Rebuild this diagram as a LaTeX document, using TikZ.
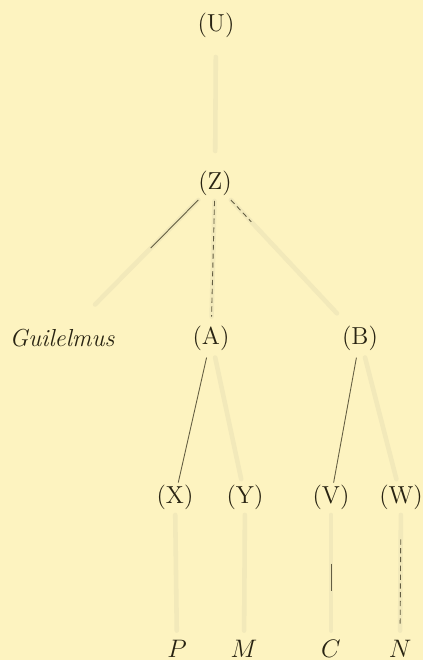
\documentclass[tikz,border=0pt]{standalone}
\usepackage{tikz}
\usetikzlibrary{calc}
\definecolor{paper}{RGB}{253,243,192}
\definecolor{inkdark}{RGB}{40,35,18}
\definecolor{tracecol}{RGB}{242,233,186}
\definecolor{thinink}{RGB}{100,94,66}
\tikzset{
  ms/.style={text=inkdark, font=\fontsize{14}{16}\selectfont, inner sep=1pt},
  msit/.style={ms, font=\fontsize{14}{16}\selectfont\itshape},
  faint/.style={tracecol, line width=2.6pt, line cap=round},
  ink/.style={thinink, line width=0.5pt},
  inkdash/.style={ink, dash pattern=on 3pt off 2pt},
}

\begin{document}
\begin{tikzpicture}[x=0.02cm, y=-0.02cm]
  \fill[paper] (0,0) rectangle (423,660);
  \useasboundingbox (0,0) rectangle (423,660);
%---------------- witnesses ----------------
  \node[ms] (U) at (216,25) {(U)};
  \node[ms] (Z) at (215,183) {(Z)};
  \node[msit] (G) at (62,338) {Guilelmus};
  \node[ms] (A) at (211,338) {(A)};
  \node[ms] (B) at (360,338) {(B)};
  \node[ms] (X) at (175,497) {(X)};
  \node[ms] (Y) at (245,497) {(Y)};
  \node[ms] (V) at (331,497) {(V)};
  \node[ms] (W) at (401,497) {(W)};
  % extant manuscripts
  \node[ms, anchor=base] (P) at (177,657) {$P$};
  \node[ms, anchor=base] (M) at (244,657) {$M$};
  \node[ms, anchor=base] (C) at (331,657) {$C$};
  \node[ms, anchor=base] (N) at (400,657) {$N$};
%---------------- faint lines ----------------
  \draw[faint, shorten <=10pt, shorten >=10pt] (U) -- (Z);
  \draw[faint, shorten <=2pt, shorten >=18pt] (Z) -- (G);
  \draw[faint, shorten <=2pt, shorten >=4pt] (Z) -- (A);
  \draw[faint, shorten <=2pt, shorten >=8pt] (Z) -- (B);
  \draw[faint, shorten <=3pt, shorten >=2pt] (A) -- (Y);
  \draw[faint, shorten <=3pt, shorten >=2pt] (B) -- (W);
  \draw[faint, shorten <=2pt, shorten >=4pt] (X) -- (P);
  \draw[faint, shorten <=2pt, shorten >=4pt] (Y) -- (M);
  \draw[faint, shorten <=2pt, shorten >=4pt] (V) -- (C);
  \draw[faint, shorten <=2pt, shorten >=4pt] (W) -- (N);
%---------------- dark strokes ----------------
  \draw[ink, shorten <=2pt] (Z) -- ($(Z)!0.42!(G)$);
  \draw[inkdash, shorten <=2pt, shorten >=4pt] (Z) -- (A);
  \draw[inkdash, shorten <=2pt] (Z) -- ($(Z)!0.25!(B)$);
  \draw[ink, shorten <=3pt] (A) -- (X);
  \draw[ink, shorten <=3pt] (B) -- (V);
  \draw[ink] ($(V)!0.44!(C)$) -- ($(V)!0.62!(C)$);
  \draw[inkdash] ($(W)!0.28!(N)$) -- ($(W)!0.85!(N)$);
\end{tikzpicture}
\end{document}
